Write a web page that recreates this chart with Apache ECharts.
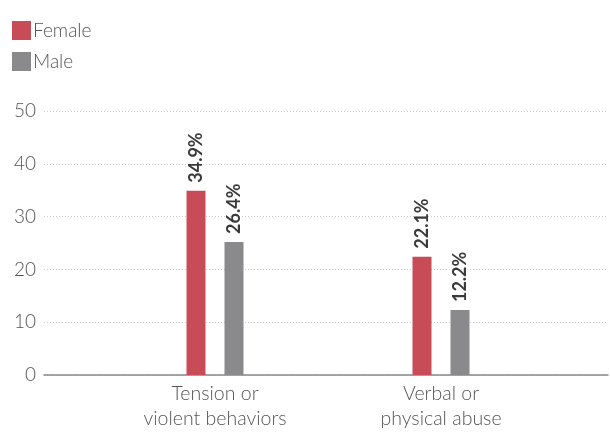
<!DOCTYPE html>
<html>
<head>
<meta charset="utf-8">
<script src="https://cdn.jsdelivr.net/npm/echarts@6/dist/echarts.min.js"></script>
<style>
html,body{margin:0;padding:0;background:#fff;}
#chart{width:610px;height:435px;}
</style>
</head>
<body>
<div id="chart"></div>
<script>
var categories = ['Tension or\nviolent behaviors', 'Verbal or\nphysical abuse'];
var femaleValues = [34.9, 22.4];
var maleValues = [25.2, 12.3];
var femaleLabels = ['34.9%', '22.1%'];
var maleLabels = ['26.4%', '12.2%'];
var yTicks = [0, 10, 20, 30, 40, 50];

var FONT = 'Lato';
var chart = echarts.init(document.getElementById('chart'));
function lbl(arr) {
  return {
    show: true, position: 'top', rotate: 90, align: 'left', verticalAlign: 'middle',
    distance: 8, fontFamily: FONT, fontSize: 18, fontWeight: 'bold', color: '#3a3a3a',
    formatter: function (p) { return arr[p.dataIndex]; }
  };
}
chart.setOption({
  animation: false,
  textStyle: { fontFamily: FONT },
  legend: {
    orient: 'vertical', left: 7, top: 16, itemWidth: 19, itemHeight: 19, itemGap: 12,
    icon: 'rect', textStyle: { fontFamily: FONT, fontSize: 19, fontWeight: 300, color: '#555', padding: [0, 0, 0, -3] },
    data: ['Female', 'Male']
  },
  grid: [
    { left: 44, right: 2, top: 111, bottom: 60 },
    { left: 102, right: 56, top: 111, bottom: 60 }
  ],
  xAxis: [
    { type: 'category', gridIndex: 0, data: ['x'], axisLine: { lineStyle: { color: '#888', width: 1.5 } },
      axisTick: { show: false }, axisLabel: { show: false } },
    { type: 'category', gridIndex: 1, data: categories, axisLine: { show: false }, axisTick: { show: false },
      axisLabel: { fontFamily: FONT, fontSize: 19.5, fontWeight: 300, color: '#555', lineHeight: 25, margin: 6 } }
  ],
  yAxis: [
    { type: 'value', gridIndex: 0, min: yTicks[0], max: yTicks[yTicks.length - 1], interval: 10,
      axisLine: { show: false }, axisTick: { show: false },
      axisLabel: { fontFamily: FONT, fontSize: 19, fontWeight: 300, color: '#555', margin: 8 },
      splitLine: { lineStyle: { color: '#ccc', type: [1, 2], width: 1 } } },
    { type: 'value', gridIndex: 1, min: 0, max: 50, interval: 10, show: false, splitLine: { show: false } }
  ],
  series: [
    { name: 'Female', type: 'bar', xAxisIndex: 1, yAxisIndex: 1, data: femaleValues, barWidth: 19, barGap: '100%',
      itemStyle: { color: '#c84b58' }, label: lbl(femaleLabels) },
    { name: 'Male', type: 'bar', xAxisIndex: 1, yAxisIndex: 1, data: maleValues, barWidth: 19, barGap: '100%',
      itemStyle: { color: '#8a8a8c' }, label: lbl(maleLabels) }
  ]
});
</script>
</body>
</html>
